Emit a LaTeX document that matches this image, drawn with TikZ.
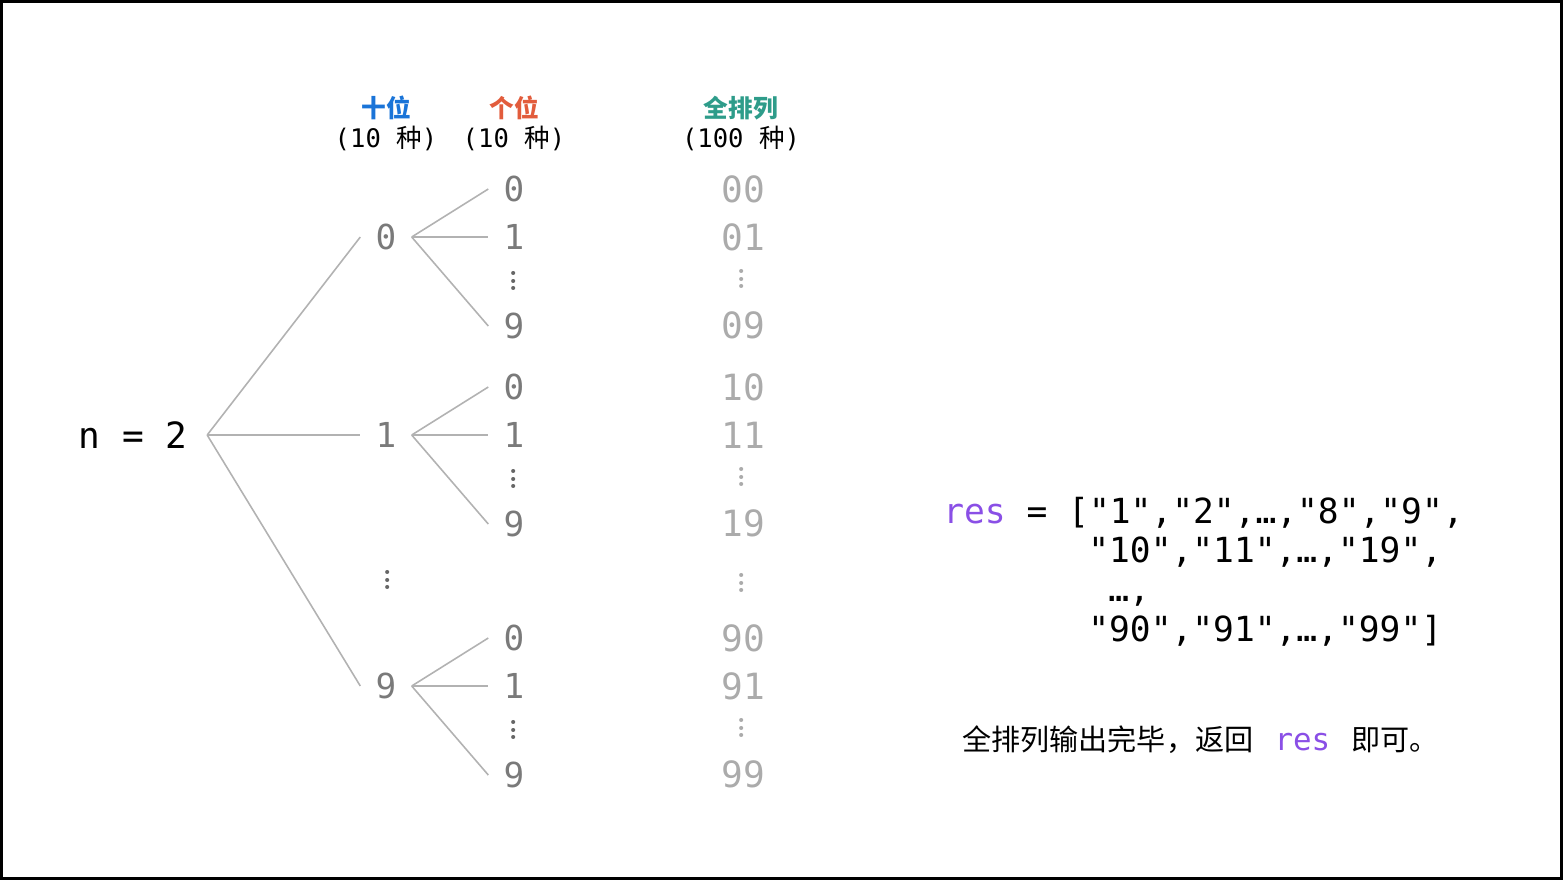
\documentclass[tikz,border=0pt]{standalone}
\usepackage{fontspec}
\newfontfamily\cjk{Noto Sans CJK SC}
\newfontfamily\mono{DejaVu Sans Mono}
\newcommand\colvdots{\vbox{\baselineskip=4.3pt\lineskiplimit=-20pt\hbox{.}\hbox{.}\hbox{.}}}
\definecolor{tenscol}{HTML}{1A74D8}
\definecolor{onescol}{HTML}{E25C3C}
\definecolor{allcol}{HTML}{2E9C8A}
\definecolor{digitgray}{HTML}{7A7A7A}
\definecolor{resgray}{HTML}{ABABAB}
\definecolor{edgegray}{HTML}{B2B2B2}
\definecolor{respurple}{HTML}{8A4FE6}
\tikzset{
	digit/.style={font=\mono\fontsize{19.5}{20}\selectfont, text=digitgray, inner xsep=8.5pt, inner ysep=0pt},
	result/.style={font=\mono\fontsize{20.5}{21}\selectfont, text=resgray, inner sep=0pt},
	dots/.style={font=\rmfamily\fontsize{28}{28}\selectfont, text=black!60, inner sep=0pt},
	head/.style={font=\cjk\bfseries\fontsize{14}{14}\selectfont, inner sep=0pt},
	count/.style={font=\mono\fontsize{14.5}{15}\selectfont, inner sep=0pt},
	code/.style={font=\mono\fontsize{19.6}{20}\selectfont, inner sep=0pt, anchor=base west},
	branch/.style={draw=edgegray, line width=0.9pt}
}
\begin{document}
\begin{tikzpicture}[x=0.567pt, y=-0.567pt]
				\useasboundingbox (0,0) rectangle (1563,880);
				\draw[line width=1.7pt] (1.5,1.5) rectangle (1561.5,878.5);

				% column heads
				\node[head, text=tenscol] (tenshead) at (386,108) {十位};
				\node[count] (tenscount) at (386,138) {(10 {\cjk 种})};
				\node[head, text=onescol] (oneshead) at (514,108) {个位};
				\node[count] (onescount) at (514,138) {(10 {\cjk 种})};
				\node[head, text=allcol] (allhead) at (741,108) {全排列};
				\node[count] (allcount) at (741,138) {(100 {\cjk 种})};

				% root
				\node[digit, text=black, inner xsep=11pt, font=\mono\fontsize{20.5}{21}\selectfont] (root) at (133,435) {n = 2};

				\foreach \p/\y in {0/237, 1/435, 9/686} {
					\node[digit] (t\p) at (386,\y) {\p};
					\node[digit] (c\p0) at (514,\y-48) {0};
					\node[digit] (c\p1) at (514,\y) {1};
					\node[dots] (c\p d) at (514,\y+44) {\colvdots};
					\node[digit] (c\p9) at (514,\y+89) {9};

					\node[result] (r\p0) at (743,\y-48) {\p0};
					\node[result] (r\p1) at (743,\y) {\p1};
					\node[dots, text=resgray] (r\p d) at (742,\y+42) {\colvdots};
					\node[result] (r\p9) at (743,\y+88) {\p9};

					\draw[branch] (root.east) -- (t\p.west);
					\foreach \c in {0,1,9}
					\draw[branch] (t\p.east) -- (c\p\c.west);
				}

				\node[dots] (tdots) at (388,580) {\colvdots};
				\node[dots, text=resgray] (rdots) at (742,583) {\colvdots};

				% result list
				\node[code] (line1) at (943,523) {{\color{respurple}res} = ["1","2",…,"8","9",};
				\node[code] (line2) at (1088,562) {"10","11",…,"19",};
				\node[code] (line3) at (1108,601) {…,};
				\node[code] (line4) at (1088,641) {"90","91",…,"99"]};

				\node[anchor=base west, inner sep=0pt, font=\cjk\fontsize{16.5}{17}\selectfont] (note) at (962,750)
					{全排列输出完毕，返回\hspace{12pt}{\mono\fontsize{17.5}{18}\selectfont\color{respurple}res}\hspace{12pt}即可。};
			\end{tikzpicture}
\end{document}
